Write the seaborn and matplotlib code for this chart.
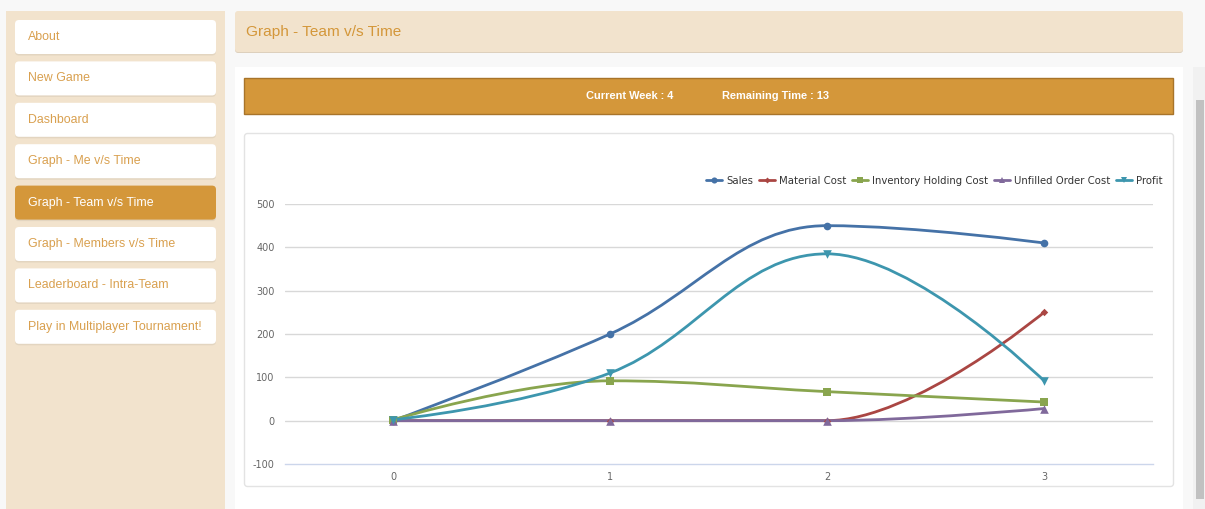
import numpy as np
import pandas as pd
import matplotlib
matplotlib.use("Agg")
import matplotlib.pyplot as plt
import seaborn as sns
from matplotlib.patches import FancyBboxPatch, Rectangle, PathPatch
from matplotlib.path import Path
from matplotlib.lines import Line2D

# data
weeks = [0, 1, 2, 3]
sales = [0, 200, 450, 410]
material_cost = [0, 0, 0, 250]
inventory_cost = [2, 92, 67, 43]
unfilled_cost = [0, 0, 0, 28]
profit = [2, 110, 385, 92]

series_names = ["Sales", "Material Cost", "Inventory Holding Cost", "Unfilled Order Cost", "Profit"]
y_ticks = [-100, 0, 100, 200, 300, 400, 500]

menu_items = ["About", "New Game", "Dashboard", "Graph - Me v/s Time", "Graph - Team v/s Time",
              "Graph - Members v/s Time", "Leaderboard - Intra-Team", "Play in Multiplayer Tournament!"]
active_item = "Graph - Team v/s Time"
page_title = "Graph - Team v/s Time"
current_week = 4
remaining_time = 13

colors = ["#4572A7", "#AA4643", "#89A54E", "#80699B", "#3D96AE"]
markers = ["o", "D", "s", "^", "v"]
marker_sizes = [5.5, 3.8, 5.5, 6.2, 6.2]

sns.set_theme(style="white")
plt.rcParams["font.family"] = ["Liberation Sans", "DejaVu Sans"]
plt.rcParams["axes.unicode_minus"] = False

W, H = 1205, 509
fig = plt.figure(figsize=(W / 100, H / 100), dpi=100)
fig.patch.set_facecolor("#f8f8f8")

# page layout in pixel coordinates
bg = fig.add_axes([0, 0, 1, 1])
bg.set_xlim(0, W)
bg.set_ylim(H, 0)
bg.axis("off")

orange = "#d4973a"
text_orange = "#d9a04f"
beige = "#f2e3cd"

bg.add_patch(Rectangle((6, 11), 219, H - 11, color=beige, lw=0))

for i, item in enumerate(menu_items):
    y0 = 20 + i * 41.4
    bg.add_patch(FancyBboxPatch((15, y0 + 1.5), 201, 34, boxstyle="round,pad=0,rounding_size=4",
                                fc="#d9ccb8", ec="none", alpha=0.6))
    active = item == active_item
    bg.add_patch(FancyBboxPatch((15, y0), 201, 34, boxstyle="round,pad=0,rounding_size=4",
                                fc=orange if active else "white", ec="none"))
    bg.text(28, y0 + 17, item, fontsize=8.9, va="center", ha="left",
            color="white" if active else text_orange)

# title panel
bg.add_patch(FancyBboxPatch((235, 13), 948, 40, boxstyle="round,pad=0,rounding_size=3",
                            fc="#ddd0bd", ec="none"))
bg.add_patch(FancyBboxPatch((235, 11), 948, 41, boxstyle="round,pad=0,rounding_size=3",
                            fc=beige, ec="none"))
bg.text(246, 32, page_title, fontsize=11.1, va="center", ha="left", color=orange)

# content card
bg.add_patch(Rectangle((235, 67), 948, H - 67, fc="white", ec="none"))
bg.add_patch(Rectangle((244, 78), 929, 36, fc=orange, ec="#a8742a", lw=1))
bg.text(586, 96, f"Current Week : {current_week}", fontsize=7.9, va="center", ha="left",
        color="white", fontweight="bold")
bg.text(722, 96, f"Remaining Time : {remaining_time}", fontsize=7.9, va="center", ha="left",
        color="white", fontweight="bold")
bg.add_patch(FancyBboxPatch((244.5, 133.5), 929, 353, boxstyle="round,pad=0,rounding_size=3",
                            fc="white", ec="#e3e3e3", lw=1))

# scrollbar
bg.add_patch(Rectangle((1193, 67), 12, H - 67, fc="#f1f1f1", ec="none"))
bg.add_patch(Rectangle((1196, 100), 8, H - 110, fc="#c1c1c1", ec="none"))

# chart
ax = fig.add_axes([284.5 / W, (H - 464) / H, (1152.5 - 284.5) / W, (464 - 204) / H])
ax.set_facecolor("none")


def spline_path(xs, ys, smoothing=1.5):
    # Highcharts-style spline control points
    n = len(xs)
    left = [None] * n
    right = [None] * n
    denom = smoothing + 1
    for i in range(1, n - 1):
        px, py = xs[i], ys[i]
        lx, ly = xs[i - 1], ys[i - 1]
        nx, ny = xs[i + 1], ys[i + 1]
        lcx = (smoothing * px + lx) / denom
        lcy = (smoothing * py + ly) / denom
        rcx = (smoothing * px + nx) / denom
        rcy = (smoothing * py + ny) / denom
        corr = (rcy - lcy) * (rcx - px) / (rcx - lcx) + py - rcy
        lcy += corr
        rcy += corr
        if lcy > ly and lcy > py:
            lcy = max(ly, py)
            rcy = 2 * py - lcy
        elif lcy < ly and lcy < py:
            lcy = min(ly, py)
            rcy = 2 * py - lcy
        if rcy > ny and rcy > py:
            rcy = max(ny, py)
            lcy = 2 * py - rcy
        elif rcy < ny and rcy < py:
            rcy = min(ny, py)
            lcy = 2 * py - rcy
        left[i] = (lcx, lcy)
        right[i] = (rcx, rcy)
    verts = [(xs[0], ys[0])]
    codes = [Path.MOVETO]
    for i in range(1, n):
        c1 = right[i - 1] or (xs[i - 1], ys[i - 1])
        c2 = left[i] or (xs[i], ys[i])
        verts += [c1, c2, (xs[i], ys[i])]
        codes += [Path.CURVE4] * 3
    return Path(verts, codes)


df = pd.DataFrame({
    "week": weeks * 5,
    "value": sales + material_cost + inventory_cost + unfilled_cost + profit,
    "series": np.repeat(series_names, len(weeks)),
})

for name, color, mk, ms in zip(series_names, colors, markers, marker_sizes):
    sub = df[df["series"] == name]
    ax.add_patch(PathPatch(spline_path(sub["week"].tolist(), sub["value"].tolist()),
                           fc="none", ec=color, lw=2, zorder=3))
    sns.scatterplot(data=sub, x="week", y="value", marker=mk, s=ms ** 2,
                    color=color, edgecolor=color, linewidth=0, ax=ax, zorder=4, legend=False)

ax.set_xlim(-0.5, 3.5)
ax.set_ylim(-100, 500)
ax.set_yticks(y_ticks)
ax.set_xticks(weeks)
ax.set_xticks([0.5, 1.5, 2.5, 3.5], minor=True)
for v in y_ticks[1:]:
    ax.axhline(v, color="#d8d8d8", lw=1, zorder=1)
for s in ["top", "right", "left"]:
    ax.spines[s].set_visible(False)
ax.spines["bottom"].set_color("#ccd6eb")
ax.spines["bottom"].set_linewidth(1)
ax.tick_params(axis="x", which="major", length=0, pad=6, labelsize=7, labelcolor="#666666")
ax.tick_params(axis="x", which="minor", length=5, color="#ccd6eb", width=1, direction="out")
ax.tick_params(axis="y", length=0, pad=7, labelsize=7, labelcolor="#666666")
for lbl in ax.get_xticklabels() + ax.get_yticklabels():
    lbl.set_family(["DejaVu Sans"])
ax.set_xlabel("")
ax.set_ylabel("")

handles = [Line2D([0], [0], color=c, lw=2, marker=m, markersize=ms * 0.8, markeredgewidth=0)
           for c, m, ms in zip(colors, markers, marker_sizes)]
leg = fig.legend(handles, series_names, loc="center right", bbox_to_anchor=(1167 / W, (H - 181) / H),
                 ncol=5, frameon=False, fontsize=7.3, handlelength=1.6, handletextpad=0.4,
                 columnspacing=0.55, borderaxespad=0)
for t in leg.get_texts():
    t.set_color("#333333")
    t.set_family(["DejaVu Sans"])

fig.savefig("out.png", dpi=100)
